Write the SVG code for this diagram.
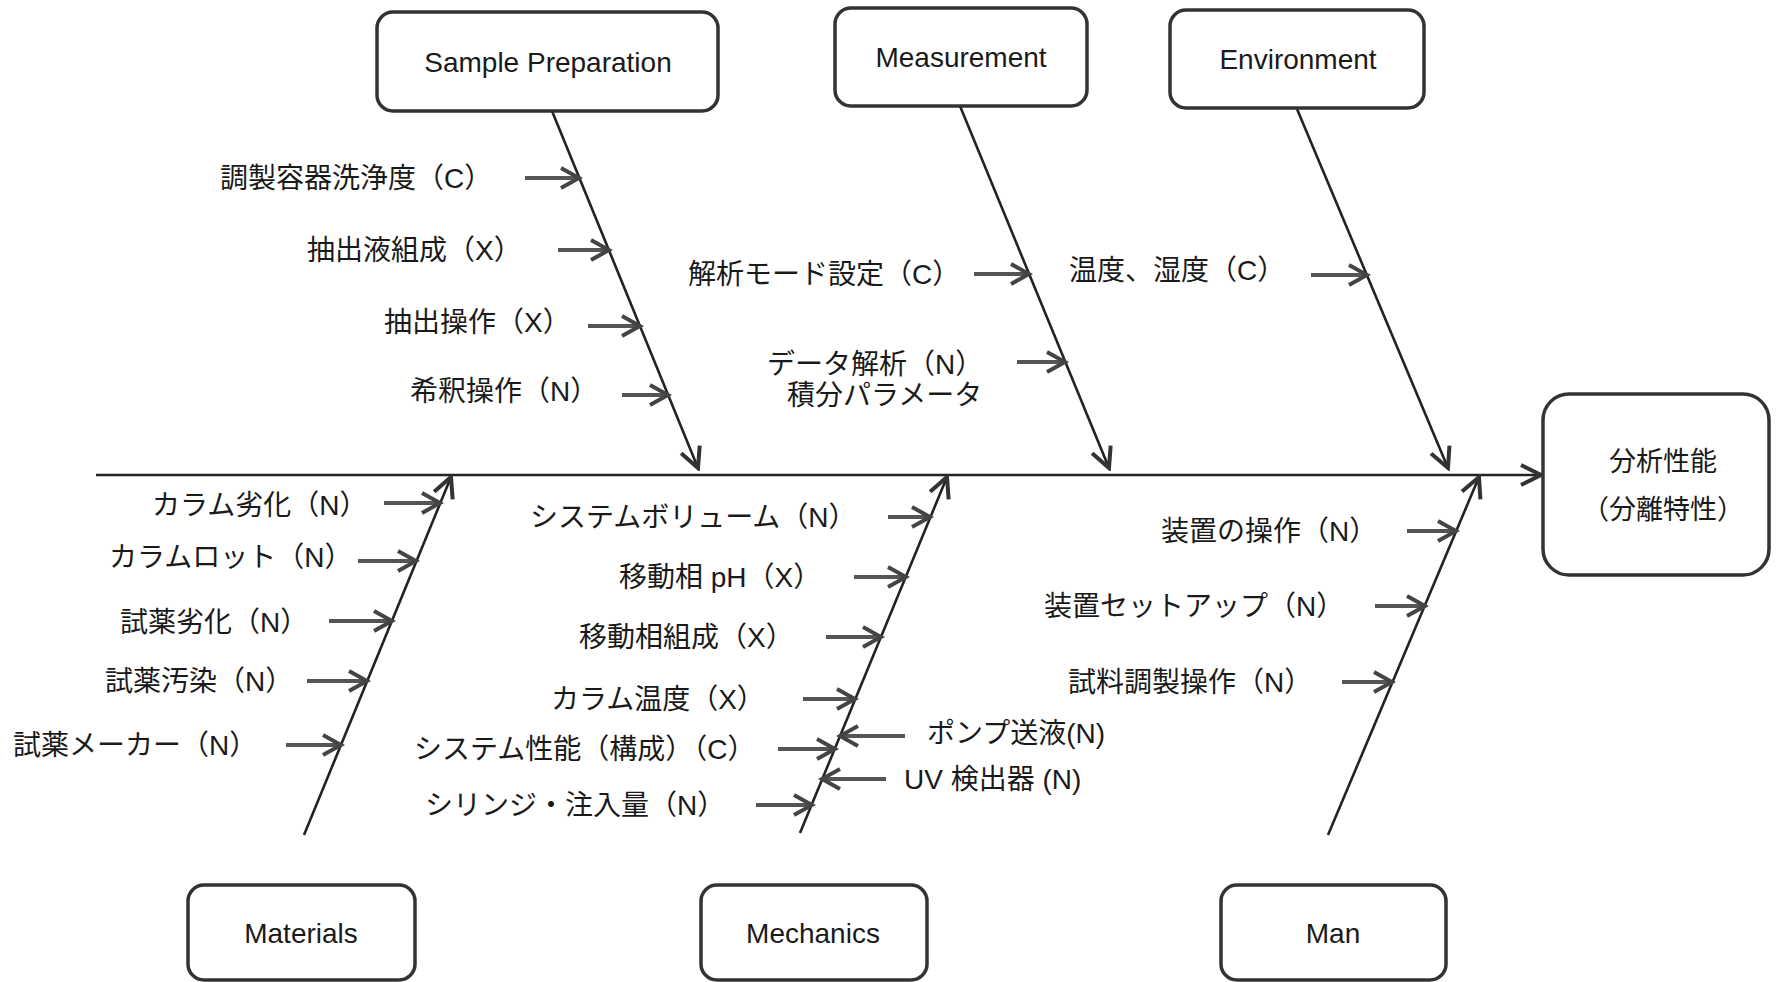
<svg xmlns="http://www.w3.org/2000/svg" width="1776" height="982" viewBox="0 0 1776 982">
<style>
.box{fill:#fff;stroke:#333;stroke-width:3.5}
.bt{font-family:"Liberation Sans",Arial,sans-serif;font-size:28px;fill:#1a1a1a;text-anchor:middle}
.lb{font-family:"Liberation Sans","Noto Sans CJK JP",sans-serif;font-size:28px;fill:#1a1a1a}
.rt{font-family:"Noto Sans CJK JP",sans-serif;font-size:27px;fill:#1a1a1a;text-anchor:middle}
.sp{stroke:#222;stroke-width:2.6;fill:none;marker-end:url(#big)}
.ar{stroke:#555;stroke-width:4;fill:none;marker-end:url(#small)}
</style>
<defs>
<marker id="big" markerUnits="userSpaceOnUse" viewBox="0 0 26 26" refX="23" refY="13" markerWidth="26" markerHeight="26" orient="auto">
<path d="M3,3 L23,13 L3,23" fill="none" stroke="#333" stroke-width="4"/>
</marker>
<marker id="small" markerUnits="userSpaceOnUse" viewBox="0 0 26 26" refX="22" refY="13" markerWidth="26" markerHeight="26" orient="auto">
<path d="M4,3 L22,13 L4,23" fill="none" stroke="#444" stroke-width="4"/>
</marker>
</defs>
<rect width="1776" height="982" fill="#fff"/>

<g id="connectors">
<line class="sp" x1="96" y1="475" x2="1541" y2="475"/>
<line class="sp" x1="552" y1="111" x2="698" y2="468"/>
<line class="sp" x1="960" y1="106" x2="1109" y2="468"/>
<line class="sp" x1="1297" y1="109" x2="1448" y2="468"/>
<line class="sp" x1="304" y1="835" x2="451" y2="477"/>
<line class="sp" x1="800" y1="833" x2="947" y2="477"/>
<line class="sp" x1="1328" y1="835" x2="1479" y2="477"/>

<line class="ar" x1="525" y1="178" x2="579" y2="178"/>
<line class="ar" x1="558" y1="250" x2="609" y2="250"/>
<line class="ar" x1="588" y1="326" x2="640" y2="326"/>
<line class="ar" x1="622" y1="395" x2="668" y2="395"/>
<line class="ar" x1="974" y1="274" x2="1029" y2="274"/>
<line class="ar" x1="1017" y1="362" x2="1065" y2="362"/>
<line class="ar" x1="1311" y1="275" x2="1367" y2="275"/>
<line class="ar" x1="384" y1="503" x2="440" y2="503"/>
<line class="ar" x1="358" y1="561" x2="416" y2="561"/>
<line class="ar" x1="329" y1="621" x2="392" y2="621"/>
<line class="ar" x1="307" y1="681" x2="367" y2="681"/>
<line class="ar" x1="286" y1="745" x2="341" y2="745"/>
<line class="ar" x1="888" y1="517" x2="930" y2="517"/>
<line class="ar" x1="854" y1="577" x2="906" y2="577"/>
<line class="ar" x1="826" y1="637" x2="881" y2="637"/>
<line class="ar" x1="803" y1="699" x2="855" y2="699"/>
<line class="ar" x1="778" y1="749" x2="835" y2="749"/>
<line class="ar" x1="756" y1="805" x2="812" y2="805"/>
<line class="ar" x1="905" y1="736" x2="840" y2="736"/>
<line class="ar" x1="886" y1="779" x2="822" y2="779"/>
<line class="ar" x1="1407" y1="531" x2="1456" y2="531"/>
<line class="ar" x1="1375" y1="606" x2="1425" y2="606"/>
<line class="ar" x1="1342" y1="682" x2="1392" y2="682"/>
</g>

<g id="sample-preparation">
<rect class="box" x="377" y="12" width="341" height="99" rx="16"/>
<text class="bt" x="548" y="72">Sample Preparation</text>
</g>
<g id="measurement">
<rect class="box" x="835" y="8" width="252" height="98" rx="16"/>
<text class="bt" x="961" y="67">Measurement</text>
</g>
<g id="environment">
<rect class="box" x="1170" y="10" width="254" height="98" rx="16"/>
<text class="bt" x="1298" y="69">Environment</text>
</g>
<g id="result">
<rect class="box" x="1543" y="394" width="226" height="181" rx="26"/>
<text class="rt" x="1663" y="471">分析性能</text>
<text class="rt" x="1663" y="519">（分離特性）</text>
</g>
<g id="materials">
<rect class="box" x="188" y="885" width="227" height="95" rx="16"/>
<text class="bt" x="301" y="943">Materials</text>
</g>
<g id="mechanics">
<rect class="box" x="701" y="885" width="226" height="95" rx="16"/>
<text class="bt" x="813" y="943">Mechanics</text>
</g>
<g id="man">
<rect class="box" x="1221" y="885" width="225" height="95" rx="16"/>
<text class="bt" x="1333" y="943">Man</text>
</g>

<g id="labels">
<text class="lb" x="220" y="188">調製容器洗浄度（C）</text>
<text class="lb" x="307" y="260">抽出液組成（X）</text>
<text class="lb" x="384" y="332">抽出操作（X）</text>
<text class="lb" x="410" y="401">希釈操作（N）</text>
<text class="lb" x="688" y="284">解析モード設定（C）</text>
<text class="lb" x="767" y="374">データ解析（N）</text>
<text class="lb" x="787" y="405">積分パラメータ</text>
<text class="lb" x="1069" y="280">温度、湿度（C）</text>
<text class="lb" x="152" y="515">カラム劣化（N）</text>
<text class="lb" x="109" y="567">カラムロット（N）</text>
<text class="lb" x="120" y="632">試薬劣化（N）</text>
<text class="lb" x="105" y="691">試薬汚染（N）</text>
<text class="lb" x="13" y="755">試薬メーカー（N）</text>
<text class="lb" x="530" y="527">システムボリューム（N）</text>
<text class="lb" x="619" y="587">移動相 pH（X）</text>
<text class="lb" x="579" y="647">移動相組成（X）</text>
<text class="lb" x="551" y="709">カラム温度（X）</text>
<text class="lb" x="414" y="759">システム性能（構成）（C）</text>
<text class="lb" x="425" y="815">シリンジ・注入量（N）</text>
<text class="lb" x="927" y="743">ポンプ送液(N)</text>
<text class="lb" x="904" y="789">UV 検出器 (N)</text>
<text class="lb" x="1161" y="541">装置の操作（N）</text>
<text class="lb" x="1044" y="616">装置セットアップ（N）</text>
<text class="lb" x="1068" y="692">試料調製操作（N）</text>
</g>
</svg>
